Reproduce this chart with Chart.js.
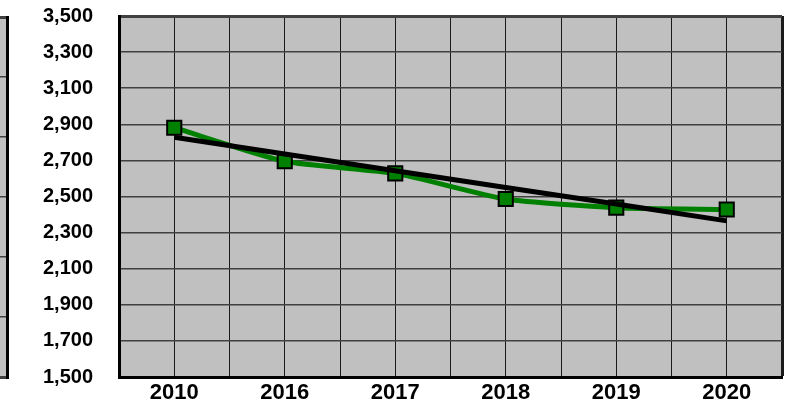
<!DOCTYPE html>
<html><head><meta charset="utf-8">
<script src="https://cdn.jsdelivr.net/npm/chart.js@4"></script>
<style>
html,body{margin:0;padding:0;background:#fff;overflow:hidden}
#wrap{position:relative;width:785px;height:409px;overflow:hidden}
#main{position:absolute;left:0;top:0}
#side{position:absolute;left:-41px;top:0}
</style></head><body>
<div id="wrap">
<canvas id="side" width="50" height="409"></canvas>
<canvas id="main" width="785" height="409"></canvas>
</div>
<script>
const years = ['2010', '2016', '2017', '2018', '2019', '2020'];
const values = [2881, 2695, 2628, 2486, 2438, 2428];
const trend = [2828, 2735, 2643, 2550, 2458, 2365];
const yMin = 1500, yMax = 3500, yStep = 200;

const FAMILY = "'Liberation Sans', Arial, sans-serif";
const XFONT = {family: FAMILY, size: 22, weight: 'bold'};
const YFONT = {family: FAMILY, size: 20, weight: 'bold'};

const plotBg = {
  id: 'plotBg',
  beforeDraw(c) {
    const a = c.chartArea, x = c.ctx;
    x.save();
    x.fillStyle = '#c0c0c0';
    x.fillRect(a.left, a.top, a.right - a.left, a.bottom - a.top);
    x.restore();
  }
};

new Chart(document.getElementById('main'), {
  type: 'line',
  data: {
    datasets: [
      {
        label: 'Value',
        data: values.map((v, i) => ({x: i, y: v})),
        borderColor: '#008000',
        borderWidth: 5,
        tension: 0.2,
        pointStyle: 'rect',
        pointRadius: 10,
        pointBackgroundColor: '#008000',
        pointBorderColor: '#000',
        pointBorderWidth: 2,
        order: 2
      },
      {
        label: 'Trend',
        data: trend.map((v, i) => ({x: i, y: v})),
        borderColor: '#000',
        borderWidth: 5,
        pointRadius: 0,
        tension: 0,
        order: 1
      }
    ]
  },
  options: {
    responsive: false,
    animation: false,
    layout: {autoPadding: false, padding: {top: 16, right: 3, left: 0, bottom: 0}},
    plugins: {legend: {display: false}, tooltip: {enabled: false}},
    scales: {
      x: {
        type: 'linear',
        min: -0.5, max: years.length - 0.5,
        ticks: {
          stepSize: 0.5, autoSkip: false, maxRotation: 0, padding: 0,
          font: XFONT, color: '#000',
          callback: v => Number.isInteger(v) ? years[v] : ''
        },
        grid: {
          color: '#1a1a1a',
          lineWidth: ctx => (ctx.tick && ctx.tick.value === years.length - 0.5) ? 3 : 1,
          drawTicks: true, tickLength: 3, tickColor: 'rgba(0,0,0,0)'
        },
        border: {color: '#000', width: 3},
        afterFit: s => { s.height = 32; s.paddingLeft = 0; s.paddingRight = 0; }
      },
      y: {
        min: yMin, max: yMax,
        ticks: {
          stepSize: yStep, padding: 0, font: YFONT, color: '#000',
          callback: v => v.toLocaleString('en-US')
        },
        grid: {
          color: '#404040',
          lineWidth: ctx => (ctx.tick && ctx.tick.value === yMax) ? 3 : 1.5,
          drawTicks: true, tickLength: 26, tickColor: 'rgba(0,0,0,0)'
        },
        border: {color: '#000', width: 3},
        afterFit: s => { s.width = 119; s.paddingTop = 0; s.paddingBottom = 0; }
      }
    }
  },
  plugins: [plotBg]
});

// partial neighbouring panel at the far left edge
new Chart(document.getElementById('side'), {
  type: 'line',
  data: {labels: [], datasets: []},
  options: {
    responsive: false,
    animation: false,
    layout: {autoPadding: false, padding: {top: 17, right: 2, left: 0, bottom: 32}},
    plugins: {legend: {display: false}, tooltip: {enabled: false}},
    scales: {
      x: {display: false},
      y: {
        position: 'right',
        min: 0, max: 6,
        ticks: {display: false, stepSize: 1},
        grid: {
          color: '#404040',
          lineWidth: ctx => (ctx.tick && (ctx.tick.value === 0 || ctx.tick.value === 6)) ? 3 : 1.5,
          drawTicks: false
        },
        border: {color: '#000', width: 3},
        afterFit: s => { s.width = 0; }
      }
    }
  },
  plugins: [plotBg]
});
</script>
</body></html>
